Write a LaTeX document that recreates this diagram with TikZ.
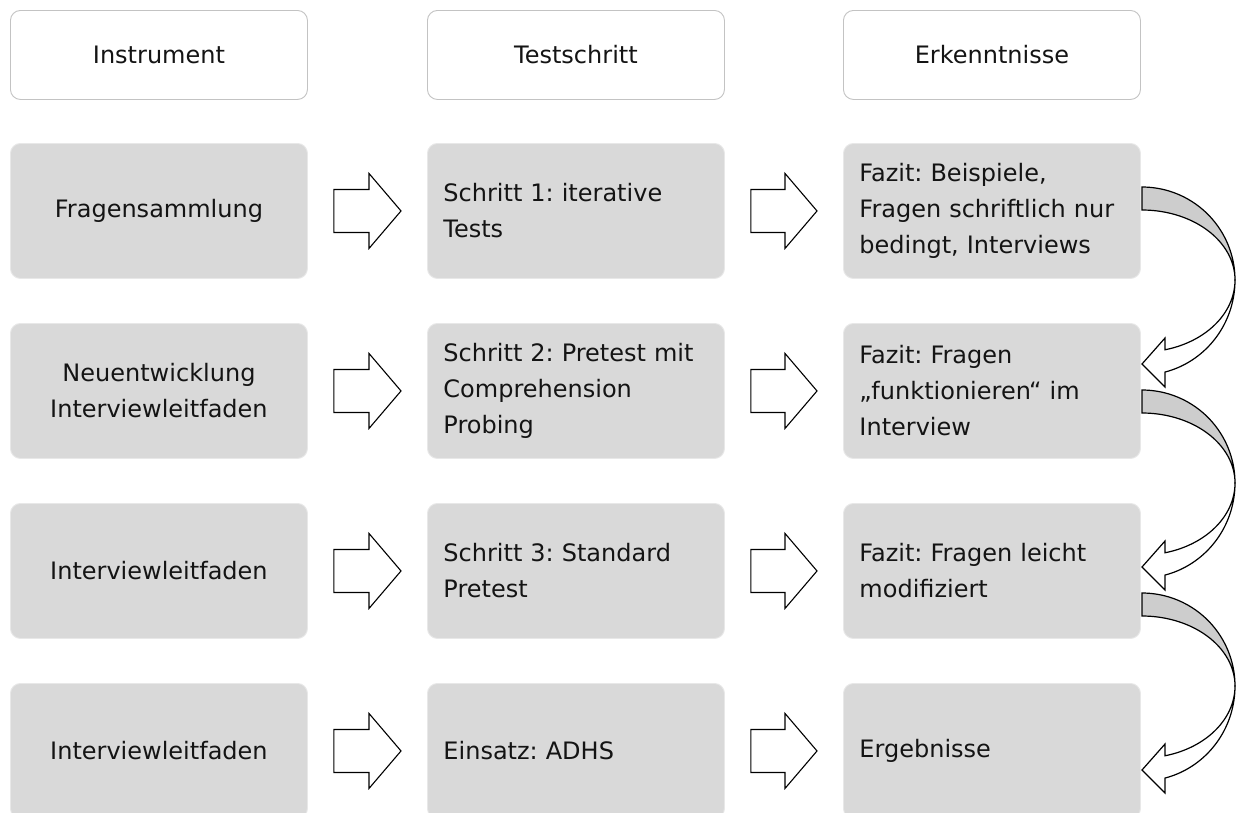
\documentclass[tikz,border=0pt]{standalone}
\usepackage{fontspec}
\setmainfont{DejaVu Sans}
\usetikzlibrary{calc}
\frenchspacing
\definecolor{boxfill}{RGB}{217,217,217}
\definecolor{boxline}{RGB}{232,232,232}
\definecolor{headline}{RGB}{195,195,195}
\definecolor{bandfill}{RGB}{205,205,205}
\definecolor{txt}{RGB}{20,20,20}
\begin{document}
\frenchspacing
\begin{tikzpicture}[x=1pt,y=-1pt,
  base/.style={rounded corners=10pt, minimum width=297pt, text=txt,
    font=\fontsize{24}{36}\selectfont, anchor=north west, inner sep=0pt},
  hdr/.style={base, draw=headline, fill=white, line width=0.9pt, minimum height=89pt, align=center},
  cbox/.style={base, draw=boxline, fill=boxfill, line width=0.9pt, minimum height=135pt, align=center},
  lbox/.style={base, draw=boxline, fill=boxfill, line width=0.9pt, minimum height=135pt, align=left,
    text width=265pt, inner xsep=16pt},
  blockarrow/.style={draw=black, fill=white, line width=1.1pt, line join=miter},
  band/.style={draw=black, fill=bandfill, line width=1.2pt},
  front/.style={draw=black, fill=white, line width=1.2pt, line join=miter}]
\useasboundingbox (0,0) rectangle (1236,812);
\fill[white] (0,0) rectangle (1236,812);

% headers
\node[hdr] (h1) at (10,10) {Instrument};
\node[hdr] (h2) at (427,10) {Testschritt};
\node[hdr] (h3) at (843,10) {Erkenntnisse};

% row 1
\node[cbox] (a1) at (10,143) {Fragensammlung};
\node[lbox] (b1) at (427,143) {Schritt 1: iterative\\Tests};
\node[lbox] (c1) at (843,143) {Fazit: Beispiele,\\Fragen schriftlich nur\\bedingt, Interviews};
% row 2
\node[cbox] (a2) at (10,323) {Neuentwicklung\\Interviewleitfaden};
\node[lbox] (b2) at (427,323) {Schritt 2: Pretest mit\\Comprehension\\Probing};
\node[lbox] (c2) at (843,323) {Fazit: Fragen\\„funktionieren“ im\\Interview};
% row 3
\node[cbox] (a3) at (10,503) {Interviewleitfaden};
\node[lbox] (b3) at (427,503) {Schritt 3: Standard\\Pretest};
\node[lbox] (c3) at (843,503) {Fazit: Fragen leicht\\modifiziert};
% row 4
\node[cbox] (a4) at (10,683) {Interviewleitfaden};
\node[lbox] (b4) at (427,683) {Einsatz: ADHS};
\node[lbox] (c4) at (843,683) {Ergebnisse};

% block arrows
\foreach \p/\q in {a1/b1,b1/c1,a2/b2,b2/c2,a3/b3,b3/c3,a4/b4,b4/c4}{
  \draw[blockarrow] ($(\p.east)+(26,-21.5)$) -- ($(\q.west)+(-58,-21.5)$)
    -- ($(\q.west)+(-58,-37.5)$) -- ($(\q.west)+(-26,0)$)
    -- ($(\q.west)+(-58,37.5)$) -- ($(\q.west)+(-58,21.5)$)
    -- ($(\p.east)+(26,21.5)$) -- cycle;
}

% curved arrows
\coordinate (k1) at (1142,280);
\coordinate (k2) at (1142,483);
\coordinate (k3) at (1142,686);
\foreach \c in {k1,k2,k3}{
  \begin{scope}[shift={(\c)}]
    \draw[band] plot[domain=90:0,samples=50] ({93*cos(\x)},{-93*sin(\x)})
      -- plot[domain=0:90,samples=50] ({93*cos(\x)},{-70*sin(\x)}) -- cycle;
    \draw[front] plot[domain=0:-75.7,samples=50] ({93*cos(\x)},{-72*sin(\x)})
      -- (23,58) -- (0,84) -- (23,107)
      -- plot[domain=-75.7:0,samples=50] ({93*cos(\x)},{-95*sin(\x)}) -- cycle;
  \end{scope}
}
\end{tikzpicture}
\end{document}
